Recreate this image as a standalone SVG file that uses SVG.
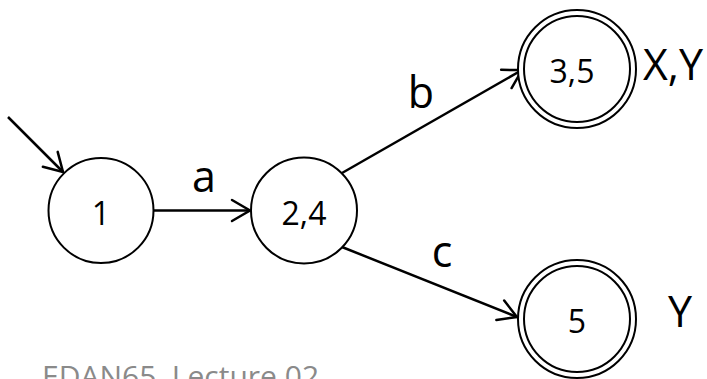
<svg xmlns="http://www.w3.org/2000/svg" width="707" height="379" viewBox="0 0 707 379">
<style>
.st{fill:#fff;stroke:#000;stroke-width:2}
.nt{font-family:"Open Sans","Noto Sans",sans-serif;font-size:32px;text-anchor:middle;fill:#000}
.lb{font-family:"Open Sans","Noto Sans",sans-serif;font-size:43px;text-anchor:middle;fill:#000}
.ed{fill:none;stroke:#000;stroke-width:2.5;marker-end:url(#ah)}
.ft{font-family:"Open Sans","Noto Sans",sans-serif;font-size:30px;fill:#8a8a8a}
</style>
<defs>
<marker id="ah" markerUnits="userSpaceOnUse" viewBox="-22 -13 24 26" refX="0" refY="0" markerWidth="24" markerHeight="26" orient="auto" overflow="visible">
<path d="M-18,-10.5 L0,0 L-18,10.5" fill="none" stroke="#000" stroke-width="2.5" stroke-linecap="round" stroke-linejoin="miter"/>
</marker>
</defs>
<g id="edges">
<line class="ed" x1="8" y1="117" x2="63" y2="172"/>
<line class="ed" x1="154" y1="210.5" x2="250" y2="210.5"/>
<line class="ed" x1="342" y1="173" x2="522" y2="70"/>
<line class="ed" x1="342" y1="247" x2="517" y2="317"/>
</g>
<g id="labels">
<text class="lb" x="204" y="192">a</text>
<text class="lb" x="421" y="108">b</text>
<text class="lb" x="442" y="267">c</text>
<text class="lb" x="673" y="80">X,Y</text>
<text class="lb" x="680" y="327">Y</text>
</g>
<g id="n1">
<circle class="st" cx="101" cy="210.5" r="52.5"/>
<text class="nt" x="101" y="225">1</text>
</g>
<g id="n24">
<circle class="st" cx="304" cy="210.5" r="53"/>
<text class="nt" x="304" y="225">2,4</text>
</g>
<g id="n35">
<circle class="st" cx="577" cy="69" r="59"/>
<circle class="st" cx="577" cy="69" r="53"/>
<text class="nt" x="572" y="83">3,5</text>
</g>
<g id="n5">
<circle class="st" cx="577" cy="319" r="59"/>
<circle class="st" cx="577" cy="319" r="53"/>
<text class="nt" x="577" y="333">5</text>
</g>
<text class="ft" x="42" y="387">EDAN65, Lecture 02</text>
</svg>
